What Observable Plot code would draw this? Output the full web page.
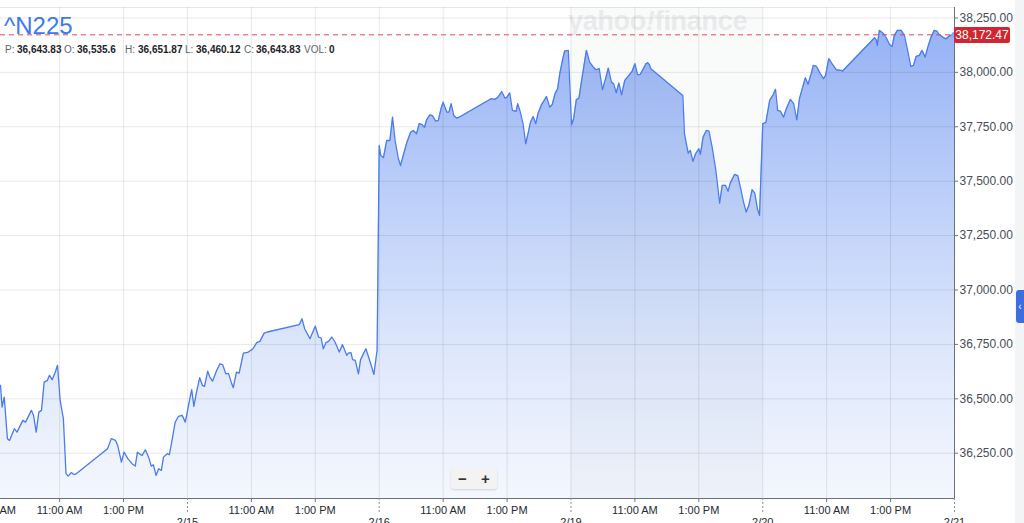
<!DOCTYPE html>
<html>
<head>
<meta charset="utf-8">
<script src="https://cdn.jsdelivr.net/npm/d3@7"></script>
<script src="https://cdn.jsdelivr.net/npm/@observablehq/plot@0.6"></script>
<style>
  html, body { margin: 0; padding: 0; background: #fff; }
  body { font-family: "Liberation Sans", Arial, sans-serif; }
  #wrap { position: relative; width: 1024px; height: 523px; overflow: hidden; background: #fff; }
  #chart svg { display: block; }
  .ov { position: absolute; white-space: nowrap; }
  #title { left: 4px; top: 14px; font-size: 24px; line-height: 24px; color: #3c77f5; }
  .lab { position: absolute; top: 44px; font-size: 10px; line-height: 12px; color: #5b636a; }
  .val { position: absolute; top: 44px; font-size: 10px; line-height: 12px; color: #1d2228; font-weight: bold; }
  #wm { left: 568px; top: 6px; font-size: 27px; font-weight: bold; color: rgba(150,150,155,0.18); letter-spacing: -0.3px; }
  #tag { left: 954px; width: 56px; height: 16px; background: #d1262f; color: #fff; font-size: 12px; line-height: 16px; text-align: center; border-radius: 2px; }
  #strip { left: 1015px; top: 0; width: 9px; height: 523px; background: #f3f4f5; }
  #tab { left: 1016px; top: 290px; width: 8px; height: 33px; background: #3b6fe0; border-radius: 3px 0 0 3px; color: #fff; font-size: 10px; line-height: 33px; text-align: center; }
  #zoom { left: 451px; top: 468px; width: 46px; height: 21px; background: #f3f3f4; border-radius: 3px; box-shadow: 0 1px 2px rgba(0,0,0,0.15); font-size: 15px; font-weight: bold; color: #333; line-height: 21px; }
  #zoom span { position: absolute; width: 23px; text-align: center; top: 0; }
</style>
</head>
<body>
<div id="wrap"><div id="chart"></div></div>
<script>
// ---- data -------------------------------------------------------------
const sessions = ["2/14", "2/15", "2/16", "2/19", "2/20"];

const times0214 = ["9:09","9:12","9:16","9:22","9:26","9:35","9:40","9:51","9:56","10:07","10:11","10:16","10:21","10:26","10:31","10:37","10:41","10:46","10:52","10:56","11:01","11:07","11:12","11:16","11:22","11:26","11:30","12:30","12:37","12:45","12:49","12:56","13:01","13:08","13:16","13:22","13:26","13:31","13:35","13:41","13:47","13:52","13:56","14:01","14:06","14:11","14:15","14:22","14:26","14:31","14:37","14:43","14:50","14:56"];
const prices0214 = [36562,36462,36508,36317,36309,36363,36347,36401,36393,36447,36424,36347,36439,36447,36577,36585,36608,36588,36623,36654,36493,36409,36156,36145,36161,36153,36153,36271,36317,36309,36286,36209,36255,36225,36202,36191,36255,36245,36240,36266,36232,36191,36197,36148,36179,36171,36232,36248,36243,36309,36393,36419,36424,36393];

const times0215 = ["9:02","9:08","9:12","9:17","9:23","9:28","9:32","9:38","9:42","9:47","9:55","10:01","10:06","10:12","10:17","10:23","10:26","10:32","10:37","10:45","10:53","11:03","11:10","11:16","11:24","11:30","12:30","12:35","12:40","12:50","13:00","13:06","13:11","13:15","13:20","13:25","13:31","13:37","13:45","13:51","13:59","14:02","14:07","14:10","14:15","14:21","14:25","14:35","14:43","14:50","14:56"];
const prices0215 = [36470,36542,36465,36531,36597,36562,36557,36627,36600,36581,36631,36661,36657,36615,36617,36570,36551,36623,36618,36710,36713,36730,36758,36764,36802,36807,36841,36868,36822,36776,36834,36784,36779,36730,36758,36764,36784,36761,36715,36749,36700,36710,36712,36680,36677,36615,36680,36730,36669,36612,36723];

const times0216 = ["9:00","9:03","9:08","9:14","9:20","9:25","9:30","9:36","9:40","9:45","9:52","9:59","10:04","10:10","10:15","10:20","10:25","10:29","10:35","10:40","10:46","10:51","10:56","11:00","11:07","11:11","11:15","11:20","11:25","11:30","12:30","12:37","12:43","12:50","12:56","13:00","13:05","13:10","13:17","13:20","13:24","13:30","13:35","13:40","13:44","13:49","13:54","13:58","14:05","14:09","14:14","14:20","14:25","14:30","14:35","14:39","14:44","14:48","14:55"];
const prices0216 = [37664,37618,37608,37687,37687,37794,37683,37603,37572,37618,37679,37725,37733,37718,37764,37761,37748,37782,37805,37801,37776,37779,37833,37863,37817,37817,37856,37802,37790,37794,37879,37876,37886,37912,37882,37886,37906,37825,37821,37856,37825,37764,37672,37725,37771,37797,37764,37810,37853,37868,37889,37840,37853,37902,37925,37994,38055,38098,38101];

const times0219 = ["9:01","9:05","9:10","9:15","9:20","9:25","9:29","9:35","9:41","9:47","9:53","9:59","10:05","10:10","10:16","10:20","10:25","10:30","10:35","10:41","10:49","10:55","11:00","11:05","11:10","11:15","11:21","11:24","11:27","11:30","12:30","12:32","12:33","12:40","12:44","12:49","12:54","13:00","13:03","13:08","13:14","13:19","13:25","13:32","13:36","13:39","13:44","13:50","13:55","13:59","14:07","14:13","14:18","14:24","14:29","14:34","14:40","14:45","14:50","14:54"];
const prices0219 = [37759,37787,37874,37882,37963,38040,38101,38047,38027,38012,38017,37920,37971,38019,37955,37948,37906,37951,37897,37963,37986,38006,38040,37990,37990,38013,38040,38044,38036,38017,37894,37779,37718,37629,37641,37591,37626,37649,37623,37702,37733,37730,37656,37549,37465,37399,37481,37481,37454,37491,37531,37526,37473,37404,37358,37389,37461,37445,37373,37343];

const times0220 = ["9:00","9:03","9:06","9:13","9:19","9:24","9:28","9:33","9:39","9:45","9:52","9:58","10:04","10:09","10:15","10:20","10:25","10:31","10:35","10:41","10:48","10:54","10:58","11:04","11:10","11:18","11:27","11:30","12:30","12:33","12:35","12:39","12:46","12:52","12:58","13:03","13:07","13:13","13:20","13:26","13:32","13:38","13:43","13:48","13:54","13:59","14:05","14:10","14:16","14:22","14:27","14:31","14:38","14:44","14:49","14:53","15:00"];
const prices0220 = [37764,37767,37771,37871,37894,37922,37825,37822,37794,37837,37876,37856,37782,37879,37932,37975,37945,37994,38032,38027,37994,37971,37986,38063,38040,38012,38009,38006,38159,38150,38124,38193,38180,38159,38128,38119,38170,38193,38193,38170,38101,38027,38032,38073,38078,38101,38070,38116,38162,38193,38189,38174,38162,38154,38165,38170,38172.47];

const yTicks = [36250, 36500, 36750, 37000, 37250, 37500, 37750, 38000, 38250];
const timeTickLabels = ["9:00 AM", "11:00 AM", "1:00 PM"];
const dateTickLabels = ["2/15", "2/16", "2/19", "2/20", "2/21"];
const shadedSession = "2/19";
const lastPrice = 38172.47;
const ohlcLabels = ["P:", "O:", "H:", "L:", "C:", "VOL:"];
const ohlcValues = ["36,643.83", "36,535.6", "36,651.87", "36,460.12", "36,643.83", "0"];
const symbol = "^N225";

// ---- build -----------------------------------------------------------
const allTimes = [times0214, times0215, times0216, times0219, times0220];
const allPrices = [prices0214, prices0215, prices0216, prices0219, prices0220];
const SESSION_HOURS = 6; // 9:00 - 15:00
function toT(si, hm) {
  const [h, m] = hm.split(":").map(Number);
  return si * SESSION_HOURS + h + m / 60 - 9;
}
const data = [];
sessions.forEach((s, i) => {
  const tt = allTimes[i], pp = allPrices[i];
  for (let j = 0; j < Math.min(tt.length, pp.length); j++) data.push({t: toT(i, tt[j]), price: pp[j]});
});

const xDomain = [0.15, 30];
const yDomain = [36042, 38298];

const timeTicks = [{t: toT(0, "9:00"), label: timeTickLabels[0]}];
sessions.forEach((s, i) => {
  timeTicks.push({t: toT(i, "11:00"), label: timeTickLabels[1]});
  timeTicks.push({t: toT(i, "13:00"), label: timeTickLabels[2]});
});
const dayTicks = dateTickLabels.map((d, i) => ({t: (i + 1) * SESSION_HOURS, label: d}));
const timeLabelMap = new Map(timeTicks.map(d => [d.t, d.label]));
const dayLabelMap = new Map(dayTicks.map(d => [d.t, d.label]));
const gridXs = [...timeTicks.map(d => d.t), ...dayTicks.map(d => d.t)];
const si = sessions.indexOf(shadedSession);
const band = [{x1: si * SESSION_HOURS, x2: (si + 1) * SESSION_HOURS}];
const last = data[data.length - 1];
const fmt = d3.format(",.2f");

const chart = Plot.plot({
  width: 1024,
  height: 523,
  marginLeft: 0,
  marginRight: 70,
  marginTop: 7,
  marginBottom: 25,
  style: {fontFamily: "Liberation Sans, Arial, sans-serif", background: "transparent"},
  x: {type: "linear", domain: xDomain, axis: null},
  y: {type: "linear", domain: yDomain, axis: null},
  marks: [
    Plot.areaY(data, {x: "t", y1: () => yDomain[0], y2: "price", fill: "url(#n225grad)", clip: true}),
    Plot.rect(band, {x1: "x1", x2: "x2", y1: yDomain[0], y2: yDomain[1], fill: "#5d6677", fillOpacity: 0.035}),
    Plot.gridY(yTicks, {stroke: "#000", strokeOpacity: 0.09}),
    Plot.gridX(gridXs.filter(t => t > xDomain[0] && t < xDomain[1]), {stroke: "#000", strokeOpacity: 0.09}),
    Plot.ruleY([yDomain[1]], {stroke: "#000", strokeOpacity: 0.09}),
    Plot.lineY(data, {x: "t", y: "price", stroke: "#4a7bef", strokeWidth: 1.3, clip: true}),
    Plot.ruleY([lastPrice], {stroke: "#e0485a", strokeWidth: 1, strokeDasharray: "5,4"}),
    Plot.dot([last], {x: "t", y: "price", r: 3, fill: "#74b4f6", stroke: "none"}),
    Plot.ruleX([xDomain[1]], {stroke: "#6c7279", strokeWidth: 1}),
    Plot.ruleY([yDomain[0]], {stroke: "#6c7279", strokeWidth: 1}),
    Plot.axisY(yTicks, {anchor: "right", label: null, tickSize: 3, tickPadding: 2, tickFormat: d => fmt(d),
      fontSize: 12, fill: "#464e56", stroke: "#6c7279"}),
    Plot.axisX(timeTicks.map(d => d.t), {anchor: "bottom", label: null, tickSize: 4, tickPadding: 4,
      tickFormat: d => timeLabelMap.get(d), fontSize: 11, fill: "#232a31", stroke: "#6c7279"}),
    Plot.axisX(dayTicks.map(d => d.t), {anchor: "bottom", label: null, tickSize: 15, tickPadding: 5,
      tickFormat: d => dayLabelMap.get(d), fontSize: 11, fill: "#232a31", stroke: "#8a9097", strokeDasharray: "2,2"})
  ]
});

// gradient for the area fill
const defs = d3.select(chart).insert("defs", ":first-child");
const grad = defs.append("linearGradient")
  .attr("id", "n225grad").attr("gradientUnits", "userSpaceOnUse")
  .attr("x1", 0).attr("x2", 0).attr("y1", 30).attr("y2", 498);
[[0, "#97b3f5"], [0.35, "#bccff9"], [0.7, "#dfe8fc"], [1, "#f4f7fe"]].forEach(([o, c]) =>
  grad.append("stop").attr("offset", o).attr("stop-color", c));

const wrap = document.getElementById("wrap");
document.getElementById("chart").appendChild(chart);

function addDiv(id, cls, html, style) {
  const el = document.createElement("div");
  if (id) el.id = id;
  el.className = "ov" + (cls ? " " + cls : "");
  el.innerHTML = html;
  if (style) Object.assign(el.style, style);
  wrap.appendChild(el);
  return el;
}

// watermark
addDiv("wm", "", "yahoo<i>!</i>finance");
// title + OHLC line
addDiv("title", "", symbol);
const labX = [5, 64, 125, 185, 244, 304];
const valX = [17, 77, 138, 196, 256, 329];
ohlcLabels.forEach((l, i) => {
  addDiv(null, "lab", l, {left: labX[i] + "px"});
  addDiv(null, "val", ohlcValues[i], {left: valX[i] + "px"});
});
// last price tag (positioned through the y scale)
const yPix = chart.scale("y").apply(lastPrice);
addDiv("tag", "", fmt(lastPrice), {top: (yPix - 7) + "px"});
// right strip + tab
addDiv("strip", "", "");
addDiv("tab", "", "&#8249;");
// zoom buttons
addDiv("zoom", "", "<span style='left:0'>&#8722;</span><span style='left:23px'>+</span>");
</script>
</body>
</html>
